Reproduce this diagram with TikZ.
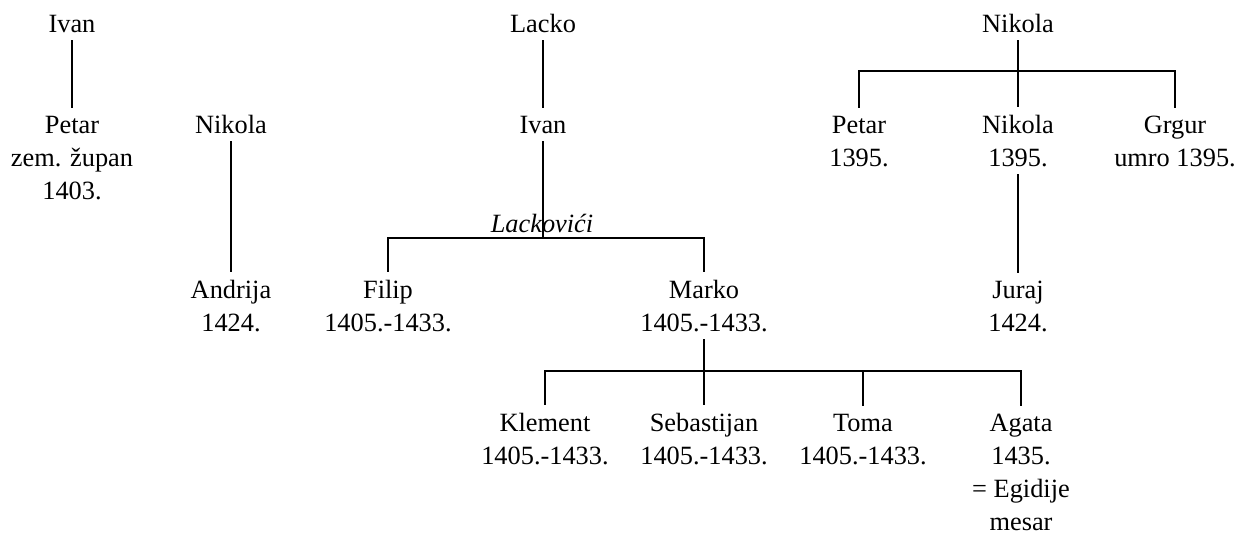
\documentclass[tikz,border=0pt]{standalone}
\usepackage{fontspec}
\setmainfont{Liberation Serif}

\begin{document}
\begin{tikzpicture}[
    x=0.02cm, y=-0.02cm,
    person/.style={align=center, anchor=base, inner xsep=2pt, inner ysep=4.3pt,
                   font=\fontsize{15}{18.7}\selectfont},
    family/.style={anchor=base, inner sep=0pt, font=\fontsize{15}{18.7}\selectfont\itshape},
    tie/.style={line width=1.1pt},
]
\useasboundingbox (0,0) rectangle (1237,535);

% nodes sit on the baseline of their last line
% Ivan line
\node[person] (ivanA) at (72,32) {Ivan};
\node[person] (petarA) at (72,199) {Petar\\zem. župan\\1403.};

% Nikola line
\node[person] (nikolaA) at (231,133) {Nikola};
\node[person] (andrija) at (231,331) {Andrija\\1424.};

% Lacko line
\node[person] (lacko) at (543,32) {Lacko};
\node[person] (ivanL) at (543,133) {Ivan};
\node[family] (lackovici) at (542,232) {Lackovići};
\node[person] (filip) at (388,331) {Filip\\1405.-1433.};
\node[person] (marko) at (704,331) {Marko\\1405.-1433.};
\node[person] (klement) at (545,464) {Klement\\1405.-1433.};
\node[person] (sebastijan) at (704,464) {Sebastijan\\1405.-1433.};
\node[person] (toma) at (863,464) {Toma\\1405.-1433.};
\node[person] (agata) at (1021,530) {Agata\\1435.\\= Egidije\\mesar};

% Nikola (right) line
\node[person] (nikolaR) at (1018,32) {Nikola};
\node[person] (petarR) at (859,166) {Petar\\1395.};
\node[person] (nikolaR2) at (1018,166) {Nikola\\1395.};
\node[person] (grgur) at (1175,166) {Grgur\\umro 1395.};
\node[person] (juraj) at (1018,331) {Juraj\\1424.};

\coordinate (lackBar) at (543,238);
\coordinate (markoBar) at (704,371);
\coordinate (nikolaBar) at (1018,71);

\foreach \a/\b in {ivanA/petarA, nikolaA/andrija, lacko/ivanL, marko/sebastijan,
                   nikolaR/nikolaR2, nikolaR2/juraj}{
    \draw[tie] (\a.south) -- (\b.north);
}

\draw[tie] (ivanL.south) -- (lackBar);
\draw[tie] (filip.north) |- (lackBar) -| (marko.north);
\draw[tie] (klement.north) |- (markoBar) -| (agata.north);
\draw[tie] (toma.north) -- (toma.north |- markoBar);
\draw[tie] (petarR.north) |- (nikolaBar) -| (grgur.north);

\end{tikzpicture}
\end{document}
